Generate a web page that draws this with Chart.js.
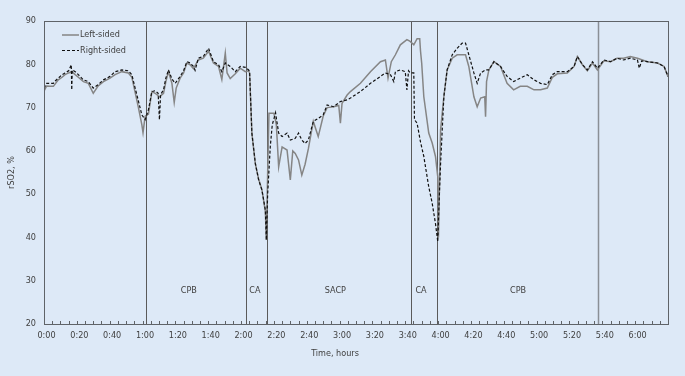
<!DOCTYPE html>
<html>
<head>
<meta charset="utf-8">
<script src="https://cdn.jsdelivr.net/npm/chart.js@4/dist/chart.umd.min.js"></script>
<style>
  html, body { margin: 0; padding: 0; background: #dde9f7; }
  #wrap { width: 685px; height: 376px; }
</style>
</head>
<body>
<div id="wrap"><canvas id="chart_rso2"></canvas></div>
<script>
// time in minutes from start, rSO2 in %
var leftTimes = [0, 1.6, 4, 5.7, 8.7, 11, 12.8, 15, 16.9, 19, 20.9, 24, 27, 30, 33, 36.2, 40.2, 43.3, 47.4, 51.4, 53.5, 55.5, 57.5, 59.6, 60.3, 61.6, 63.6, 65.7, 67.7, 70.3, 72.8, 74.2, 75.8, 77.9, 79.3, 80.5, 82.9, 85, 87, 89, 91, 94, 97, 100.2, 103.2, 106.3, 108.3, 110.4, 111.5, 113.4, 116.5, 119.5, 122.6, 124.6, 125.2,
  126.6, 128.7, 130.7, 132.7, 134.8, 135.4, 136.2, 137, 140, 141.5, 142.9, 145, 148, 150, 151.5, 153, 155, 157, 159, 161, 164, 167, 170, 172.4, 176.4, 179.5, 180.5, 181.5, 184.6, 186.6, 192.7, 198.8, 204.9, 207.9, 209.5, 211.5, 214, 217, 221, 223, 225.2, 227.2, 228.8, 229.3, 230, 231.3, 234.3, 236.4, 238.4, 239.8, 240.2,
  241.5, 243.5, 245.5, 248.6, 251.6, 256.7, 258.7, 261.8, 263.8, 265.9, 268.4, 268.9, 269.5, 270.9, 274, 278, 282, 286, 290, 294.3, 298.4, 302.4, 306.5, 309.6, 312.6, 318.7, 322.8, 324.8, 327.9, 330.9, 334, 337, 341, 345, 349, 353, 357, 361.4, 367.5, 373.6, 377.6, 380];
var leftValues = [73.8, 75, 74.9, 74.9, 76.4, 77, 77.6, 78, 78.3, 77.6, 77, 76, 75.6, 73.3, 75, 76, 76.8, 77.6, 78.3, 78, 77, 73.5, 70, 66, 64.2, 68, 68.5, 73.7, 73.3, 72.5, 73.3, 76, 78.3, 75.6, 71.2, 74.5, 76.8, 78, 80.3, 79.9, 79, 81, 81.4, 83, 80.3, 79.5, 76.5, 82.6, 78, 76.7, 77.8, 79.1, 78.3, 78.5, 78,
  64, 57, 53.5, 51, 46, 39.4, 54.9, 68.7, 68.7, 66, 56.3, 60.9, 60.2, 53.3, 60, 59.4, 57.9, 54.4, 56.9, 60.5, 66.8, 63.3, 68, 70, 70.2, 70.5, 66.4, 71, 72.9, 73.7, 75.6, 78.3, 80.6, 81, 76.8, 80.6, 82.2, 84.5, 85.7, 85.3, 84.5, 85.9, 85.9, 83, 80.3, 72.5, 64.1, 61.8, 58.7, 54, 40,
  64.8, 72.5, 78.7, 81.4, 82.2, 82.2, 79.5, 72.5, 70.2, 72.2, 72.5, 67.9, 76, 78.7, 80.6, 79.5, 75.6, 74.1, 74.9, 74.9, 74.1, 74.1, 74.5, 77, 77.8, 78, 79.5, 81.8, 79.9, 78.5, 80.3, 78.7, 80.8, 80.6, 81.4, 81.4, 81.8, 81.4, 80.6, 80.3, 79.5, 77.2];

var rightTimes = [0, 1.6, 4, 5.7, 7, 8.7, 11, 12.8, 15, 16.6, 16.9, 17.2, 19, 20.9, 24, 27, 30, 33, 36.2, 40.2, 43.3, 47.4, 51.4, 53.5, 55.5, 57.5, 59.6, 61.6, 63.6, 65.7, 67.7, 69.5, 70.3, 71, 72.8, 74.2, 75.8, 77.9, 79.9, 82.9, 85, 87, 89, 91, 92, 94, 97, 100.2, 103.2, 106.3, 108.3, 110.4, 113.4, 116.5, 119.5, 122.6, 124.6, 125.2,
  126.6, 128.7, 130.7, 132.7, 134.8, 135.4, 136.2, 137.8, 139, 141, 142.9, 145, 148, 150, 153, 155, 157, 159, 161, 164, 167, 170, 172.4, 176.4, 180.5, 184.6, 186.6, 192.7, 198.8, 204.9, 207.9, 211, 213, 214, 217, 220, 221, 222, 223, 225.2, 225.6, 227.2, 229.3, 231.3, 234.3, 236.4, 238.4, 239.8, 240.5,
  241.5, 243.5, 245.5, 248.6, 251.6, 254.7, 256.7, 258.7, 261.8, 263.8, 265.9, 268.9, 270.9, 274, 278, 282, 286, 290, 294.3, 298.4, 302.4, 306.5, 309.6, 312.6, 318.7, 322.8, 324.8, 327.9, 330.9, 334, 337, 341, 345, 349, 353, 357, 361.4, 362.5, 364, 367.5, 373.6, 377.6, 380];
var rightValues = [74.5, 75.6, 75.6, 75.6, 76.2, 76.8, 77.6, 78, 78.5, 79.9, 74.1, 78.7, 78.3, 77.6, 76.4, 76, 74.5, 75.3, 76.4, 77.2, 78.3, 78.7, 78.5, 77.6, 74.5, 71.5, 68.3, 67.2, 69.5, 73.7, 73.9, 73.3, 67.2, 73, 74.1, 76.8, 78.7, 76.6, 75.6, 77.2, 78.5, 80.6, 80.3, 79.5, 78.6, 81.4, 81.8, 83.7, 80.6, 79.9, 78.3, 80.3, 79.5, 78.3, 79.5, 79.3, 78.7, 78.3,
  64.1, 57.1, 53.3, 51, 46.3, 39.4, 50, 61, 66, 68.8, 64.1, 63.3, 64.1, 62.5, 62.9, 64.1, 62.5, 61.7, 62.5, 66.8, 67.5, 68.3, 70.6, 70.2, 71.4, 71.8, 72.2, 73.7, 75.6, 77.2, 78, 77.6, 76, 78.3, 78.7, 78.3, 74.1, 78.5, 78, 78, 67.2, 66.4, 62, 58.7, 51.7, 47.9, 43.2, 39, 47,
  57, 72.5, 78.7, 82.2, 83.7, 84.9, 84.9, 82.2, 78, 75.6, 78, 78.7, 78.7, 80.6, 79.5, 77.2, 76, 76.8, 77.6, 76.4, 75.6, 75.3, 77.6, 78.3, 78.3, 79.5, 81.8, 79.9, 78.7, 80.6, 79.1, 81, 80.6, 81.4, 81, 81.4, 81, 79.1, 80.8, 80.6, 80.3, 79.5, 77.2];

// phase boundaries (minutes) and phase labels
var phaseLines = [62.4, 123.1, 136.1, 223.5, 239.5, 337.2];
var phaseNames = ['CPB', 'CA', 'SACP', 'CA', 'CPB'];
var phaseLabelTimes = [88.2, 128.4, 177.4, 229.6, 288.7];
var phaseLabelLevel = 27.8;

var FONT = "'Liberation Sans Narrow', 'DejaVu Sans Condensed', sans-serif";
var TEXT = '#404040';

function toPoints(times, values) {
  return times.map(function (t, i) { return { x: t, y: values[i] }; });
}
function hhmm(m) {
  var h = Math.floor(m / 60), mm = m % 60;
  return h + ':' + (mm < 10 ? '0' : '') + mm;
}

var chart_rso2 = new Chart(document.getElementById('chart_rso2'), {
  type: 'line',
  data: {
    datasets: [
      {
        label: 'Left-sided',
        data: toPoints(leftTimes, leftValues),
        borderColor: '#858585',
        borderWidth: 1.5,
        pointRadius: 0,
        tension: 0,
        order: 1
      },
      {
        label: 'Right-sided',
        data: toPoints(rightTimes, rightValues),
        borderColor: '#111111',
        borderWidth: 1.2,
        borderDash: [3, 2],
        pointRadius: 0,
        tension: 0,
        order: 0
      }
    ]
  },
  options: {
    animation: false,
    responsive: true,
    maintainAspectRatio: false,
    layout: { padding: { top: 21, right: 17, left: 0, bottom: 0 } },
    plugins: {
      legend: { display: false },
      tooltip: { enabled: false }
    },
    scales: {
      x: {
        type: 'linear',
        min: 0,
        max: 380,
        grid: { display: false, drawTicks: false },
        border: { display: false },
        ticks: {
          stepSize: 5,
          autoSkip: false,
          maxRotation: 0,
          padding: 6,
          labelOffset: 2.5,
          color: TEXT,
          font: { family: FONT, size: 9 },
          callback: function (value) {
            return (value % 20 === 0 && value < 380) ? hhmm(value) : '';
          }
        },
        afterFit: function (scale) { scale.height = 52; }
      },
      y: {
        min: 20,
        max: 90,
        grid: { display: false, drawTicks: false },
        border: { display: false },
        ticks: {
          stepSize: 10,
          padding: 8,
          color: TEXT,
          font: { family: FONT, size: 9 }
        },
        title: {
          display: true,
          text: 'rSO2, %',
          color: TEXT,
          padding: { top: 6, bottom: 0 },
          font: { family: FONT, size: 9 }
        },
        afterFit: function (scale) { scale.width = 44; }
      }
    }
  },
  plugins: [{
    id: 'background',
    beforeDraw: function (chart) {
      var ctx = chart.ctx;
      ctx.save();
      ctx.fillStyle = '#dde9f7';
      ctx.fillRect(0, 0, chart.width, chart.height);
      ctx.restore();
    }
  }, {
    id: 'phases',
    beforeDatasetsDraw: function (chart) {
      var ctx = chart.ctx, a = chart.chartArea, xs = chart.scales.x, ys = chart.scales.y;
      ctx.save();
      phaseLines.forEach(function (t, i) {
        var px = Math.round(xs.getPixelForValue(t)) + 0.5;
        ctx.strokeStyle = i === phaseLines.length - 1 ? '#8a8f96' : '#5a5a5a';
        ctx.lineWidth = i === phaseLines.length - 1 ? 1.5 : 1;
        ctx.beginPath();
        ctx.moveTo(px, a.top);
        ctx.lineTo(px, a.bottom);
        ctx.stroke();
      });
      ctx.fillStyle = TEXT;
      ctx.font = '9px ' + FONT;
      ctx.textAlign = 'center';
      ctx.textBaseline = 'middle';
      phaseNames.forEach(function (name, i) {
        ctx.fillText(name, xs.getPixelForValue(phaseLabelTimes[i]), ys.getPixelForValue(phaseLabelLevel));
      });
      ctx.restore();
    },
    afterDraw: function (chart) {
      var ctx = chart.ctx, a = chart.chartArea, xs = chart.scales.x;
      ctx.save();
      // frame
      ctx.strokeStyle = '#5f6368';
      ctx.lineWidth = 1;
      ctx.strokeRect(Math.round(a.left) + 0.5, Math.round(a.top) + 0.5,
        Math.round(a.right - a.left), Math.round(a.bottom - a.top));
      // inward tick marks on the time axis
      xs.ticks.forEach(function (tk) {
        var px = Math.round(xs.getPixelForValue(tk.value)) + 0.5;
        ctx.beginPath();
        ctx.moveTo(px, a.bottom);
        ctx.lineTo(px, a.bottom - 3);
        ctx.stroke();
      });
      // axis title
      ctx.fillStyle = TEXT;
      ctx.font = '9px ' + FONT;
      ctx.textAlign = 'center';
      ctx.textBaseline = 'middle';
      ctx.fillText('Time, hours', 335, 354);
      // legend
      var items = chart.data.datasets;
      ctx.textAlign = 'left';
      items.forEach(function (ds, i) {
        var y = a.top + 14 + i * 15.5;
        ctx.strokeStyle = ds.borderColor;
        ctx.lineWidth = ds.borderWidth;
        ctx.setLineDash(ds.borderDash || []);
        ctx.beginPath();
        ctx.moveTo(a.left + 18, y);
        ctx.lineTo(a.left + 35, y);
        ctx.stroke();
        ctx.setLineDash([]);
        ctx.fillStyle = TEXT;
        ctx.fillText(ds.label, a.left + 36, y);
      });
      ctx.restore();
    }
  }]
});
</script>
</body>
</html>
